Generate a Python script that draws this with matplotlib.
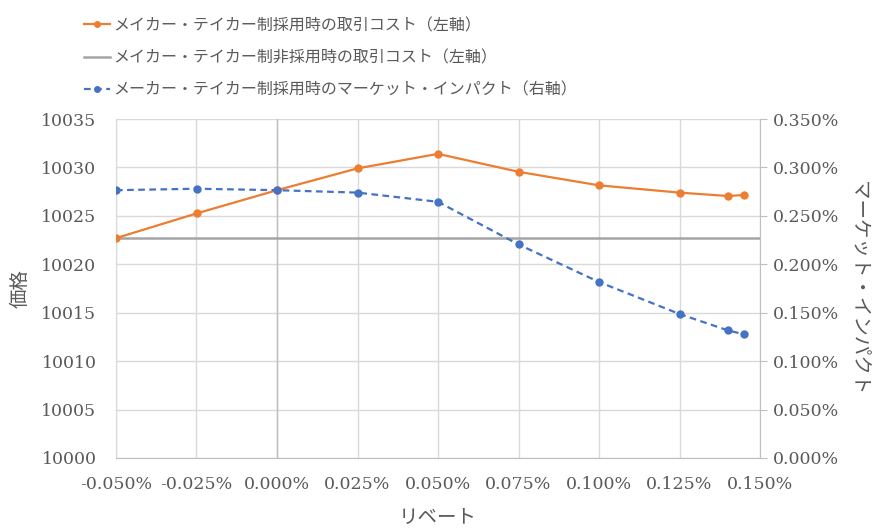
import matplotlib.pyplot as plt
from matplotlib.ticker import FuncFormatter, MultipleLocator

# リベート水準 (%)
rebate = [-0.050, -0.025, 0.000, 0.025, 0.050, 0.075, 0.100, 0.125, 0.140, 0.145]
# メイカー・テイカー制採用時の取引コスト
cost_mt = [10022.7, 10025.25, 10027.65, 10029.9, 10031.4, 10029.55, 10028.15, 10027.4, 10027.05, 10027.15]
# 非採用時の取引コスト（一定）
cost_flat = 10022.7
# マーケット・インパクト (%)
impact = [0.2765, 0.278, 0.2765, 0.274, 0.2645, 0.2205, 0.1817, 0.1487, 0.1318, 0.1277]

labels = ['メイカー・テイカー制採用時の取引コスト（左軸）',
          'メイカー・テイカー制非採用時の取引コスト（左軸）',
          'メーカー・テイカー制採用時のマーケット・インパクト（右軸）']

jp = ['Noto Sans CJK JP', 'DejaVu Sans']
num = 'DejaVu Serif'
txt = '#595959'
grid_c = '#d9d9d9'
axis_c = '#bfbfbf'

fig = plt.figure(figsize=(8.76, 5.29), dpi=100)
ax = fig.add_axes([116 / 876, 1 - 458 / 529, 644 / 876, 339 / 529])
ax2 = ax.twinx()

ax.set_xlim(-0.05, 0.15)
ax.set_ylim(10000, 10035)
ax2.set_ylim(0, 0.35)

ax.xaxis.set_major_locator(MultipleLocator(0.025))
ax.yaxis.set_major_locator(MultipleLocator(5))
ax2.yaxis.set_major_locator(MultipleLocator(0.05))
ax.xaxis.set_major_formatter(FuncFormatter(lambda v, p: f'{v:.3f}%'))
ax2.yaxis.set_major_formatter(FuncFormatter(lambda v, p: f'{v:.3f}%'))
ax.yaxis.set_major_formatter(FuncFormatter(lambda v, p: f'{v:.0f}'))

ax.grid(True, color=grid_c, linewidth=1.0)
ax.set_axisbelow(True)
for s in ['top', 'right']:
    ax.spines[s].set_visible(False)
ax.spines['left'].set_color(grid_c)
ax.spines['bottom'].set_color(axis_c)
ax.axvline(0, color=axis_c, linewidth=1.0, zorder=1)
for s in ['top', 'left', 'bottom']:
    ax2.spines[s].set_visible(False)
ax2.spines['right'].set_color(axis_c)

ax.tick_params(axis='x', length=0, labelsize=12.5, labelcolor=txt, pad=13)
ax.tick_params(axis='y', length=0, labelsize=12.5, labelcolor=txt, pad=14)
ax2.tick_params(axis='y', length=5, color=axis_c, labelsize=12.5, labelcolor=txt, pad=4)
for lab in ax.get_xticklabels() + ax.get_yticklabels() + ax2.get_yticklabels():
    lab.set_fontfamily(num)

l1, = ax.plot(rebate, cost_mt, color='#ed7d31', linewidth=1.6, marker='o', markersize=5, zorder=3)
l2 = ax.axhline(cost_flat, color='#a5a5a5', linewidth=1.8, zorder=2)
l3, = ax2.plot(rebate, impact, color='#4472c4', linewidth=1.6, linestyle=(0, (3, 2)),
               marker='o', markersize=5, zorder=3)

ax.set_xlabel('リベート', family=jp, fontsize=14, color=txt, labelpad=10)
ax.set_ylabel('価格', family=jp, fontsize=14, color=txt, labelpad=8)
ax2.set_ylabel('マーケット・インパクト', family=jp, fontsize=14, color=txt,
               rotation=270, labelpad=21)

fig.legend([l1, l2, l3], labels, loc='upper left', bbox_to_anchor=(70 / 876, 0.995),
           frameon=False, prop={'family': jp, 'size': 11.5}, labelcolor=txt,
           handlelength=1.6, handletextpad=0.2, labelspacing=0.95, markerscale=0.8)

fig.savefig('out.png', dpi=100)
